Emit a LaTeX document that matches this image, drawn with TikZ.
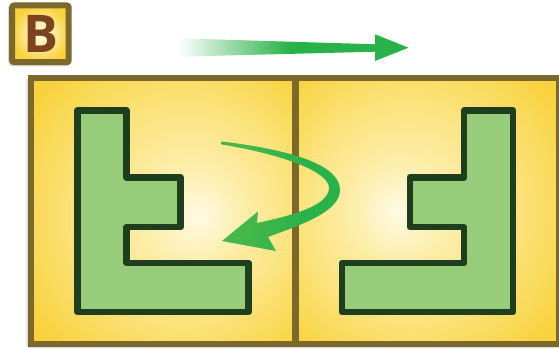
\documentclass[tikz,border=0pt]{standalone}
\usepackage{fontspec}
\newfontfamily\labelfont{Open Sans}
\definecolor{frameolive}{RGB}{124,104,42}
\definecolor{shapeedge}{RGB}{30,62,30}
\definecolor{shapefill}{RGB}{150,204,122}
\definecolor{arrowgreen}{RGB}{42,178,74}
\definecolor{headgreen}{RGB}{70,183,74}
\definecolor{letterbrown}{RGB}{125,66,30}
\definecolor{glowA}{RGB}{255,250,228}
\definecolor{glowB}{RGB}{253,238,172}
\definecolor{glowC}{RGB}{251,226,122}
\definecolor{glowD}{RGB}{248,210,60}
\pgfdeclareradialshading{glowleft}{\pgfpoint{7bp}{-1bp}}{color(0bp)=(glowA); color(9bp)=(glowB); color(21bp)=(glowC); color(34bp)=(glowD); color(50bp)=(glowD)}
\pgfdeclareradialshading{glowright}{\pgfpoint{-6bp}{0bp}}{color(0bp)=(glowA); color(9bp)=(glowB); color(21bp)=(glowC); color(34bp)=(glowD); color(50bp)=(glowD)}
\pgfdeclareradialshading{glowlabel}{\pgfpoint{0bp}{0bp}}{color(0bp)=(glowA); color(10bp)=(glowB); color(25bp)=(glowD); color(50bp)=(glowD)}
\pgfdeclarehorizontalshading{tailfade}{100bp}{color(0bp)=(white); color(25bp)=(white); color(53bp)=(arrowgreen); color(100bp)=(arrowgreen)}
\pgfdeclarehorizontalshading{curvefade}{100bp}{color(0bp)=(headgreen); color(35bp)=(headgreen); color(60bp)=(arrowgreen); color(100bp)=(arrowgreen)}
\begin{document}
\begin{tikzpicture}[x=1pt,y=-1pt,
  framestroke/.style={draw=frameolive,line width=6pt},
  shadowstroke/.style={draw=black!14,line width=6pt},
  lshape/.style={draw=shapeedge,fill=shapefill,line width=6.5pt,line join=round}]
\useasboundingbox (0,0) rectangle (559,350);
\clip (0,0) rectangle (559,350);
% shadows
\draw[shadowstroke,rounded corners=1pt] (29.3,79.5) rectangle (557.8,345.2);
\draw[shadowstroke,rounded corners=2pt] (11,6.7) rectangle (67.5,63.4);
% panels
\shade[shading=glowleft] (30.5,78.3) rectangle (295.5,344);
\shade[shading=glowright] (295.5,78.3) rectangle (559,344);
\draw[framestroke] (30.5,78.3) rectangle (559,344);
\draw[draw=frameolive,line width=6.5pt] (295.5,78.3) -- (295.5,344);
% L shapes
\draw[lshape] (77.5,110.5) -- (126.5,110.5) -- (126.5,177.5) -- (180.7,177.5) -- (180.7,227.2) -- (126.7,227.2) -- (126.7,263) -- (248.7,263) -- (248.7,312) -- (77.5,312) -- cycle;
\draw[lshape] (513.1,110.5) -- (464.1,110.5) -- (464.1,177.5) -- (409.9,177.5) -- (409.9,227.2) -- (464.1,227.2) -- (464.1,263) -- (341.9,263) -- (341.9,312) -- (513.1,312) -- cycle;
% curved arrow
\shade[shading=curvefade] (222,141.5) .. controls (292,150) and (340,165) .. (340,190)
  .. controls (340,212) and (300,225) .. (268,237) -- (276,251) -- (222,241) -- (258,211.5) -- (257,223)
  .. controls (290,216) and (329,206) .. (329,188)
  .. controls (329,172) and (285,155) .. (222,144.5) -- cycle;
\fill[arrowgreen] (222,143) circle (1.5);
% top arrow
\shade[shading=tailfade] (178,38.3) -- (376,44.3) -- (376,51.7) -- (178,56.7) -- cycle;
\fill[arrowgreen] (375,44.3) -- (375,34.3) -- (408.5,47.7) -- (375,61) -- (375,51.7) -- cycle;
% label box
\shade[shading=glowlabel,rounded corners=2pt] (12.2,5.5) rectangle (68.7,62.2);
\draw[framestroke,rounded corners=2pt] (12.2,5.5) rectangle (68.7,62.2);
\node[inner sep=0pt,text=letterbrown,font=\labelfont\bfseries\fontsize{52}{52}\selectfont] (lbl) at (41,34) {B};
\end{tikzpicture}
\end{document}
